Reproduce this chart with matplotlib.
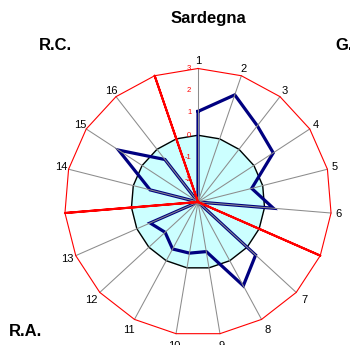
import numpy as np
import matplotlib.pyplot as plt

# 16 territories plus three empty slots that split them into regions
categories = ['1', '2', '3', '4', '5', '6', '', '7', '8', '9', '10', '11', '12', '13',
              '', '14', '15', '16', '']
values = [1.07, 2.09, 1.34, 1.04, -0.51, 0.40, -3, 0.52, 1.28, -0.74, -0.67, -0.60,
          -0.99, -0.65, -3, -0.78, 1.26, -0.58, -3]
# region dividers: full length at the empty slots, zero length elsewhere
dividers = [-3, -3, -3, -3, -3, -3, 3, -3, -3, -3, -3, -3, -3, -3, 3, -3, -3, -3, 3]
zero_ring = [0] * 19
outer_ring = [3] * 19
scale_ticks = [3, 2, 1, 0, -1, -2]
title = 'Sardegna'
regions = ['R.C.', 'G.', 'R.A.']

vmin, vmax = -3, 3
n = len(categories)
theta = np.arange(n) * 2 * np.pi / n


def to_xy(vals, close=True):
    rr = np.asarray(vals, dtype=float) - vmin
    x = rr * np.sin(theta)
    y = rr * np.cos(theta)
    if close:
        x = np.append(x, x[0])
        y = np.append(y, y[0])
    return x, y


W, H, dpi = 350, 345, 100
cx, cy, unit = 198, 202, 22.25   # centre and px per value unit

fig = plt.figure(figsize=(W / dpi, H / dpi), dpi=dpi)
ax = fig.add_axes([0, 0, 1, 1])
ax.set_xlim(-cx / unit, (W - cx) / unit)
ax.set_ylim(-(H - cy) / unit, cy / unit)
ax.axis('off')

# shaded area below zero
zx, zy = to_xy(zero_ring)
ax.fill(zx, zy, color='#CCFFFF', zorder=1)
ax.plot(zx, zy, color='black', lw=1.0, zorder=2)

# data line
dx, dy = to_xy(values)
ax.plot(dx, dy, color='#000080', lw=2.3, solid_joinstyle='miter', zorder=3)

# spokes
ox, oy = to_xy(outer_ring, close=False)
for x, y in zip(ox, oy):
    ax.plot([0, x], [0, y], color='#8C8C8C', lw=0.75, zorder=4)

# outer ring and region dividers
rx, ry = to_xy(outer_ring)
ax.plot(rx, ry, color='red', lw=0.8, zorder=5)
sx, sy = to_xy(dividers)
ax.plot(sx, sy, color='red', lw=1.5, zorder=6)

# value scale along the first spoke
for t in scale_ticks:
    ax.text(-0.3, t - vmin, str(t), color='red', fontsize=5.5, ha='right',
            va='center', family='Liberation Sans', zorder=7)

# category labels, pushed a little further out on the lower half
for lab, a in zip(categories, theta):
    if lab:
        lab_r = (vmax - vmin) + 0.32 + 0.25 * max(0.0, -np.cos(a))
        ax.text(lab_r * np.sin(a), lab_r * np.cos(a), lab, fontsize=8,
                ha='center', va='center', family='Liberation Sans')

fig.text(208.5 / W, 1 - 18.5 / H, title, fontsize=12, fontweight='bold',
         ha='center', va='center', family='Liberation Sans')
fig.text(55 / W, 1 - 45 / H, regions[0], fontsize=12, fontweight='bold',
         ha='center', va='center', family='Liberation Sans')
fig.text(335 / W, 1 - 45 / H, regions[1], fontsize=12, fontweight='bold',
         ha='left', va='center', family='Liberation Sans')
fig.text(9 / W, 1 - 331 / H, regions[2], fontsize=12, fontweight='bold',
         ha='left', va='center', family='Liberation Sans')

fig.savefig('out.png', dpi=dpi)
